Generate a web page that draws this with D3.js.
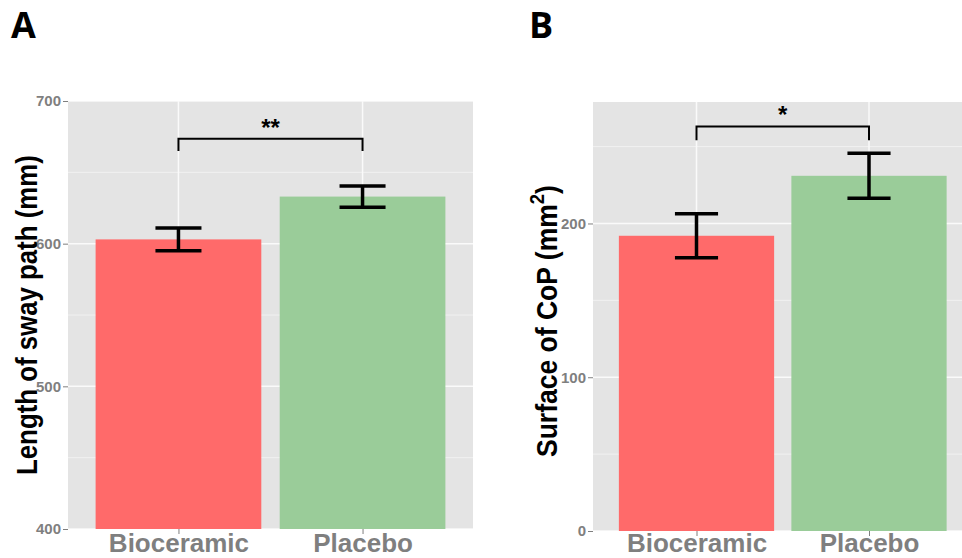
<!DOCTYPE html>
<html><head><meta charset="utf-8">
<script src="https://cdn.jsdelivr.net/npm/d3@7/dist/d3.min.js"></script>
<style>body{margin:0;background:#fff}svg{display:block}</style>
</head><body>
<svg id="c" width="962" height="558"></svg>
<script>
const categories = ["Bioceramic", "Placebo"];
const swayMean = [603, 633];
const swaySE = [8, 7.5];
const copMean = [192, 231];
const copSE = [14.3, 14.6];
const swayTicks = [400, 500, 600, 700];
const copTicks = [0, 100, 200];
const swaySig = {y: 673.5, drop: 8.5, label: "**"};
const copSig = {y: 263, drop: 8.8, label: "*"};

const svg = d3.select("#c");
const colors = ["#FF6A6A", "#9ACC99"];
const FONT = "Liberation Sans, Arial, sans-serif";

function panel(o) {
  const g = svg.append("g");
  const x = d3.scaleLinear().domain([0.4, 2.6]).range([o.left, o.right]);
  const y = d3.scaleLinear().domain(o.domain).range([o.bottom, o.top]);
  const clipId = "clip" + o.id;
  svg.append("clipPath").attr("id", clipId).append("rect")
    .attr("x", o.left).attr("y", o.top).attr("width", o.right - o.left).attr("height", o.bottom - o.top);
  const p = g.append("g").attr("clip-path", `url(#${clipId})`);
  p.append("rect").attr("x", o.left).attr("y", o.top).attr("width", o.right - o.left)
    .attr("height", o.bottom - o.top).attr("fill", "#E4E4E4");
  o.minor.forEach(v => p.append("line").attr("x1", o.left).attr("x2", o.right)
    .attr("y1", y(v)).attr("y2", y(v)).attr("stroke", "#F1F1F1").attr("stroke-width", 1));
  o.ticks.forEach(v => p.append("line").attr("x1", o.left).attr("x2", o.right)
    .attr("y1", y(v)).attr("y2", y(v)).attr("stroke", "#FAFAFA").attr("stroke-width", 1.5));
  categories.forEach((c, i) => p.append("line").attr("x1", x(i + 1)).attr("x2", x(i + 1))
    .attr("y1", o.top).attr("y2", o.bottom).attr("stroke", "#FAFAFA").attr("stroke-width", 1.5));
  const bw = x(1.45) - x(1);
  p.selectAll("rect.bar").data(o.mean).join("rect").attr("class", "bar")
    .attr("x", (d, i) => x(i + 1) - bw).attr("width", 2 * bw)
    .attr("y", d => y(d)).attr("height", d => o.bottom - y(d))
    .attr("fill", (d, i) => colors[i]);
  const cw = x(1.125) - x(1);
  o.mean.forEach((m, i) => {
    const cx = x(i + 1), lo = y(m - o.se[i]), hi = y(m + o.se[i]);
    const eg = p.append("g").attr("stroke", "#000").attr("stroke-width", 3.5);
    eg.append("line").attr("x1", cx).attr("x2", cx).attr("y1", lo).attr("y2", hi);
    eg.append("line").attr("x1", cx - cw).attr("x2", cx + cw).attr("y1", lo).attr("y2", lo);
    eg.append("line").attr("x1", cx - cw).attr("x2", cx + cw).attr("y1", hi).attr("y2", hi);
  });
  const s = o.sig;
  p.append("path").attr("fill", "none").attr("stroke", "#000").attr("stroke-width", 2)
    .attr("d", `M${x(1)},${y(s.y - s.drop)}V${y(s.y)}H${x(2)}V${y(s.y - s.drop)}`);
  p.append("text").attr("x", (x(1) + x(2)) / 2).attr("y", y(s.y) + o.starDy)
    .attr("text-anchor", "middle").attr("font-family", FONT)
    .attr("font-weight", "bold").attr("font-size", 24).text(s.label);
  const ya = g.append("g").attr("transform", `translate(${o.left},0)`)
    .call(d3.axisLeft(y).tickValues(o.ticks).tickSize(5).tickPadding(2));
  ya.select(".domain").remove();
  ya.selectAll(".tick line").attr("stroke", "#7F7F7F");
  ya.selectAll(".tick text").attr("fill", "#7F7F7F").attr("font-size", 15).attr("font-weight", "bold")
    .attr("font-family", FONT);
  const xa = g.append("g").attr("transform", `translate(0,${o.bottom})`)
    .call(d3.axisBottom(x).tickValues([1, 2]).tickFormat((d) => categories[d - 1]).tickSize(5).tickPadding(3));
  xa.select(".domain").remove();
  xa.selectAll(".tick line").attr("stroke", "#7F7F7F");
  xa.selectAll(".tick text").attr("fill", "#7F7F7F").attr("font-size", 26).attr("font-weight", "bold")
    .attr("font-family", FONT).attr("y", 552 - o.bottom).attr("dy", 0);
  const t = g.append("text").attr("text-anchor", "start").attr("font-family", FONT)
    .attr("font-weight", "bold").attr("font-size", 29).attr("fill", "#000");
  o.title(t);
  const w = t.node().getBBox().width;
  const k = o.titleLen / w;
  t.attr("transform", `translate(${o.titleX},${o.titleStart}) rotate(-90) scale(${k},1)`);
  g.append("text").attr("x", o.letterX).attr("y", 38).attr("font-family", "Open Sans, Liberation Sans, sans-serif")
    .attr("font-weight", "bold").attr("font-size", 36).attr("fill", "#000").text(o.letter);
}

panel({id: "A", left: 68, right: 473, top: 101, bottom: 529, domain: [400, 700],
  ticks: swayTicks, minor: [450, 550, 650], mean: swayMean, se: swaySE, sig: swaySig,
  titleX: 37, titleStart: 475, titleLen: 320, letterX: 11, letter: "A", starDy: -3,
  title: t => t.text("Length of sway path (mm)")});
panel({id: "B", left: 593, right: 972.5, top: 102, bottom: 531, domain: [0, 279],
  ticks: copTicks, minor: [50, 150, 250], mean: copMean, se: copSE, sig: copSig,
  titleX: 557, titleStart: 457, titleLen: 272, letterX: 529, letter: "B", starDy: -4,
  title: t => { t.append("tspan").text("Surface of CoP (mm");
    t.append("tspan").attr("font-size", 20).attr("dy", -13).text("2");
    t.append("tspan").attr("dy", 13).text(")"); }});
</script>
</body></html>
